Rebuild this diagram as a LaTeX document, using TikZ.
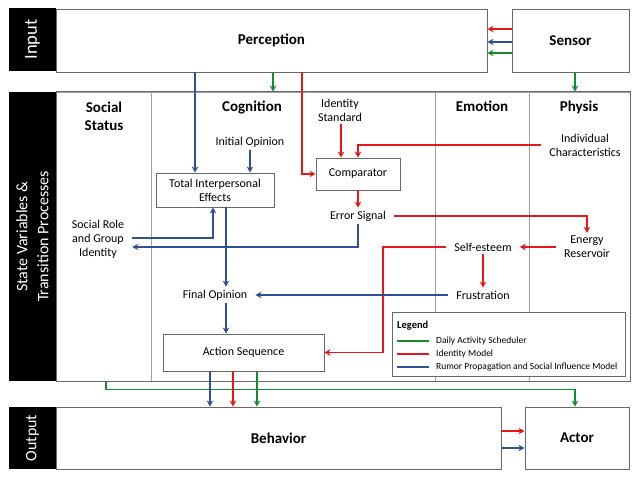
\documentclass[tikz,border=0pt]{standalone}
\usepackage{fontspec}
\setmainfont{Carlito}
\usetikzlibrary{arrows.meta}
\definecolor{cred}{RGB}{232,22,22}
\definecolor{cblue}{RGB}{44,82,148}
\definecolor{cgreen}{RGB}{20,140,50}
\definecolor{frame}{RGB}{105,105,105}
\definecolor{divider}{RGB}{160,160,160}
\begin{document}
\begin{tikzpicture}[x=1pt,y=-1pt,
  box/.style={draw=frame, line width=0.9pt, inner sep=0pt, fill=white},
  col/.style={draw=divider, line width=0.8pt, inner sep=0pt, minimum height=289pt},
  strip/.style={fill=black, text=white, inner sep=0pt, rotate=90, minimum height=47pt, font=\fontsize{16}{18}\selectfont},
  big/.style={font=\bfseries\fontsize{15}{18}\selectfont},
  lbl/.style={inner xsep=8pt, inner ysep=3pt, align=center, font=\fontsize{12}{14}\selectfont},
  conn/.style={line width=1.8pt, -{Stealth[length=6pt,width=6.5pt]}},
  redline/.style={conn, draw=cred},
  blueline/.style={conn, draw=cblue},
  greenline/.style={conn, draw=cgreen},
  legtext/.style={anchor=west, inner sep=0pt, font=\fontsize{9.5}{11}\selectfont},
]
\useasboundingbox[fill=white] (0,0) rectangle (640,481);

% ---------- Input row
\node[strip, minimum width=63pt, font=\fontsize{18.5}{20}\selectfont] (instrip) at (32.5,39.5) {Input};
\node[box, minimum width=431pt, minimum height=63pt, big] (percep) at (271.5,40.5) {Perception};
\node[box, minimum width=117pt, minimum height=63pt, big] (sensor) at (570.5,40.5) {Sensor};

% ---------- State variables
\node[strip, minimum width=289pt, align=center, font=\fontsize{16}{21}\selectfont] (midstrip) at (32.5,236.5) {State Variables \&\\Transition Processes};
\node[col, minimum width=95pt]  (soc)  at (103.5,236.5) {};
\node[col, minimum width=284pt] (cog)  at (293,236.5) {};
\node[col, minimum width=94pt]  (emo)  at (482,236.5) {};
\node[col, minimum width=101pt] (phys) at (579.5,236.5) {};
\draw[frame, line width=0.9pt] (midstrip.south east) rectangle (phys.south east);

\node[big, align=center, font=\bfseries\fontsize{15}{18}\selectfont] (hsoc) at (104,116) {Social\\Status};
\node[big] (hcog) at (252,107) {Cognition};
\node[big] (hemo) at (482,106) {Emotion};
\node[big] (hphy) at (579,107) {Physis};

\node[lbl] (idstd)   at (340,110) {Identity\\Standard};
\node[lbl] (initop)  at (250,142) {Initial Opinion};
\node[box, lbl, minimum width=118pt, minimum height=34pt] (tie) at (215,190) {Total Interpersonal\\Effects};
\node[box, lbl, minimum width=84pt, minimum height=32pt] (comp) at (358,174) {Comparator};
\node[lbl] (indch)   at (585,145) {Individual\\Characteristics};
\node[lbl] (errsig)  at (358,216) {Error Signal};
\node[lbl] (energy)  at (587,247) {Energy\\Reservoir};
\node[lbl] (selfest) at (483,247) {Self-esteem};
\node[lbl] (frust)   at (483,295) {Frustration};
\node[lbl] (finop)   at (215,295) {Final Opinion};
\node[lbl] (socrole) at (98,239) {Social Role\\and Group\\Identity};
\node[box, lbl, minimum width=161pt, minimum height=37pt] (actseq) at (243.5,352.5) {Action Sequence};

% ---------- Legend
\node[box, minimum width=233pt, minimum height=64pt] (legend) at (508.5,344) {};
\node[anchor=west, inner sep=0pt, font=\bfseries\fontsize{10.5}{12}\selectfont] (legtitle) at (397,326) {Legend};
\draw[cgreen, line width=1.8pt] (legend.west |- 0,341) ++(5,0) -- ++(32,0);
\draw[cred,   line width=1.8pt] (legend.west |- 0,354) ++(5,0) -- ++(32,0);
\draw[cblue,  line width=1.8pt] (legend.west |- 0,367) ++(5,0) -- ++(32,0);
\node[legtext] (leg1) at (436,341) {Daily Activity Scheduler};
\node[legtext] (leg2) at (436,354) {Identity Model};
\node[legtext] (leg3) at (436,367) {Rumor Propagation and Social Influence Model};

% ---------- Output row
\node[strip, minimum width=62pt] (outstrip) at (32.5,438) {Output};
\node[box, minimum width=445pt, minimum height=62pt, big] (behav) at (278.5,438) {Behavior};
\node[box, minimum width=104pt, minimum height=62pt, big] (actor) at (577,438) {Actor};

% ---------- Connectors
\draw[redline]   (sensor.west |- 0,29) -- (percep.east |- 0,29);
\draw[blueline]  (sensor.west |- 0,42) -- (percep.east |- 0,42);
\draw[greenline] (sensor.west |- 0,53) -- (percep.east |- 0,53);
\draw[greenline] (sensor.south -| 575,0) -- (phys.north -| 575,0);

\draw[blueline]  (percep.south -| 195,0) -- (tie.north -| 195,0);
\draw[greenline] (percep.south -| 273,0) -- (cog.north -| 273,0);
\draw[redline]   (percep.south -| 302,0) |- (comp.west);

\draw[blueline] (initop.south -| 250,0) -- (tie.north -| 250,0);
\draw[redline]  (idstd.south -| 341,0) -- (comp.north -| 341,0);
\draw[redline]  (indch.west) -| (comp.north);
\draw[redline]  (comp.south) -- (errsig.north);
\draw[redline]  (errsig.east) -| (energy.north);
\draw[redline]  (energy.west) -- (selfest.east);
\draw[redline]  (selfest.west) -| (actseq.east -| 383,0) -- (actseq.east);
\draw[redline]  (selfest.south) -- (frust.north);
\draw[blueline] (frust.west) -- (finop.east);
\draw[blueline] (errsig.south) |- (socrole.east |- 0,247);
\draw[blueline] (socrole.east |- 0,238) -| (tie.south -| 213,0);
\draw[blueline] (tie.south -| 226,0) -- (finop.north -| 226,0);
\draw[blueline] (finop.south -| 226,0) -- (actseq.north -| 226,0);

\draw[greenline] (soc.south -| 106,0) -- ++(0,8) -| (actor.north -| 575,0);
\draw[blueline]  (actseq.south -| 210,0) -- (behav.north -| 210,0);
\draw[redline]   (actseq.south -| 233,0) -- (behav.north -| 233,0);
\draw[greenline] (actseq.south -| 257,0) -- (behav.north -| 257,0);

\draw[redline]  (behav.east |- 0,431) -- (actor.west |- 0,431);
\draw[blueline] (behav.east |- 0,448) -- (actor.west |- 0,448);
\end{tikzpicture}
\end{document}
